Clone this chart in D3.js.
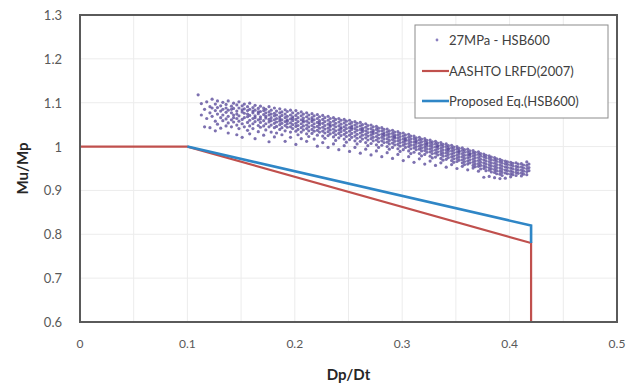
<!DOCTYPE html>
<html>
<head>
<meta charset="utf-8">
<script src="https://cdn.jsdelivr.net/npm/d3@7"></script>
<style>
  html, body { margin: 0; padding: 0; background: #fff; }
  text { font-family: Lato, "Open Sans", sans-serif; }
</style>
</head>
<body>
<script>
// data
const xTicks = [0, 0.1, 0.2, 0.3, 0.4, 0.5];
const yTicks = [0.6, 0.7, 0.8, 0.9, 1, 1.1, 1.2, 1.3];
const xGrid = [0.05, 0.1, 0.15, 0.2, 0.25, 0.3, 0.35, 0.4, 0.45];

const aashtoX = [0, 0.1, 0.42, 0.42];
const aashtoY = [1, 1, 0.78, 0.6];
const proposedX = [0.1, 0.42, 0.42];
const proposedY = [1, 0.82, 0.78];

const seriesNames = ["27MPa - HSB600", "AASHTO LRFD(2007)", "Proposed Eq.(HSB600)"];

// scatter cloud: each row = [x, y1, y2, ...]
const cloudRows = [
  [0.110, 1.118],
  [0.113, 1.072, 1.098],
  [0.116, 1.085, 1.045],
  [0.118, 1.102, 1.064],
  [0.121, 1.091, 1.077, 1.043],
  [0.123, 1.108, 1.069, 1.088],
  [0.126, 1.097, 1.058, 1.082, 1.036],
  [0.128, 1.104, 1.074, 1.089, 1.051],
  [0.131, 1.093, 1.066, 1.081, 1.042],
  [0.133, 1.101, 1.085, 1.059, 1.072],
  [0.136, 1.096, 1.078, 1.063, 1.047, 1.088],
  [0.138, 1.104, 1.083, 1.069, 1.054, 1.031],
  [0.141, 1.092, 1.077, 1.061, 1.085, 1.045],
  [0.143, 1.099, 1.087, 1.072, 1.056, 1.066],
  [0.146, 1.095, 1.081, 1.064, 1.049, 1.074, 1.027],
  [0.148, 1.102, 1.088, 1.07, 1.058, 1.041],
  [0.151, 1.093, 1.079, 1.062, 1.084, 1.052, 1.021],
  [0.153, 1.097, 1.076, 1.066, 1.045, 1.086],
  [0.156, 1.091, 1.082, 1.068, 1.055, 1.037, 1.074],
  [0.158, 1.099, 1.085, 1.071, 1.06, 1.047, 1.029],
  [0.161, 1.089, 1.077, 1.064, 1.081, 1.052, 1.041],
  [0.163, 1.094, 1.083, 1.07, 1.057, 1.066, 1.018],
  [0.166, 1.087, 1.075, 1.061, 1.048, 1.079, 1.034],
  [0.168, 1.092, 1.08, 1.068, 1.055, 1.044, 1.063],
  [0.171, 1.088, 1.073, 1.059, 1.082, 1.047, 1.026],
  [0.173, 1.085, 1.077, 1.065, 1.052, 1.069, 1.038],
  [0.176, 1.091, 1.079, 1.062, 1.056, 1.045, 1.072, 1.011],
  [0.178, 1.083, 1.074, 1.066, 1.049, 1.059, 1.033],
  [0.181, 1.088, 1.076, 1.061, 1.07, 1.043, 1.053, 1.022],
  [0.183, 1.081, 1.072, 1.064, 1.056, 1.046, 1.031],
  [0.186, 1.086, 1.077, 1.068, 1.058, 1.05, 1.039, 1.063],
  [0.188, 1.079, 1.071, 1.061, 1.053, 1.043, 1.027],
  [0.191, 1.084, 1.074, 1.066, 1.057, 1.048, 1.036, 1.012],
  [0.193, 1.08, 1.069, 1.061, 1.052, 1.044, 1.058],
  [0.196, 1.083, 1.072, 1.063, 1.054, 1.045, 1.033, 1.021],
  [0.198, 1.077, 1.068, 1.059, 1.05, 1.041, 1.064],
  [0.201, 1.082, 1.071, 1.062, 1.053, 1.046, 1.035, 1.005],
  [0.203, 1.076, 1.066, 1.057, 1.048, 1.039, 1.027],
  [0.206, 1.079, 1.07, 1.061, 1.052, 1.043, 1.033, 1.018],
  [0.208, 1.074, 1.065, 1.056, 1.047, 1.038, 1.059],
  [0.211, 1.077, 1.068, 1.058, 1.049, 1.041, 1.029, 1.012],
  [0.213, 1.072, 1.063, 1.054, 1.045, 1.036, 1.023],
  [0.216, 1.075, 1.066, 1.057, 1.048, 1.039, 1.03, 1.061],
  [0.218, 1.07, 1.061, 1.052, 1.044, 1.035, 1.017],
  [0.221, 1.073, 1.064, 1.055, 1.046, 1.037, 1.026, 1.001],
  [0.223, 1.068, 1.059, 1.05, 1.042, 1.033, 1.054],
  [0.226, 1.071, 1.062, 1.053, 1.044, 1.035, 1.024, 1.009],
  [0.228, 1.066, 1.057, 1.048, 1.04, 1.031, 1.019],
  [0.231, 1.069, 1.06, 1.051, 1.042, 1.034, 1.025, 0.998],
  [0.233, 1.064, 1.055, 1.046, 1.038, 1.029, 1.049],
  [0.236, 1.066, 1.058, 1.049, 1.04, 1.032, 1.022, 1.006],
  [0.238, 1.062, 1.053, 1.045, 1.036, 1.027, 1.014],
  [0.241, 1.064, 1.056, 1.047, 1.038, 1.03, 1.02, 0.993],
  [0.243, 1.06, 1.051, 1.043, 1.034, 1.025, 1.041],
  [0.246, 1.062, 1.054, 1.045, 1.037, 1.028, 1.017, 1.002],
  [0.248, 1.058, 1.049, 1.041, 1.032, 1.023, 1.01],
  [0.251, 1.06, 1.052, 1.043, 1.035, 1.026, 1.016, 0.989],
  [0.253, 1.055, 1.047, 1.039, 1.03, 1.021, 1.043],
  [0.256, 1.057, 1.049, 1.041, 1.033, 1.024, 1.013, 0.998],
  [0.258, 1.053, 1.045, 1.037, 1.028, 1.019, 1.006],
  [0.261, 1.055, 1.047, 1.039, 1.031, 1.022, 1.012, 0.985],
  [0.263, 1.05, 1.042, 1.034, 1.026, 1.017, 1.038],
  [0.266, 1.052, 1.044, 1.036, 1.028, 1.02, 1.009, 0.994],
  [0.268, 1.048, 1.04, 1.032, 1.024, 1.015, 1.002],
  [0.271, 1.049, 1.041, 1.033, 1.026, 1.018, 1.007, 0.981],
  [0.273, 1.045, 1.037, 1.029, 1.021, 1.013, 1.033],
  [0.276, 1.046, 1.039, 1.031, 1.023, 1.015, 1.004, 0.99],
  [0.278, 1.042, 1.035, 1.027, 1.019, 1.011, 0.998],
  [0.281, 1.043, 1.036, 1.028, 1.021, 1.013, 1.003, 0.977],
  [0.283, 1.039, 1.032, 1.024, 1.017, 1.009, 1.028],
  [0.286, 1.04, 1.033, 1.026, 1.018, 1.01, 1.0, 0.986],
  [0.288, 1.036, 1.029, 1.022, 1.014, 1.006, 0.994],
  [0.291, 1.037, 1.03, 1.023, 1.016, 1.008, 0.998, 0.973],
  [0.293, 1.033, 1.026, 1.019, 1.012, 1.004, 1.022],
  [0.296, 1.034, 1.027, 1.02, 1.013, 1.005, 0.995, 0.982],
  [0.298, 1.03, 1.023, 1.016, 1.009, 1.001, 0.989],
  [0.301, 1.031, 1.024, 1.017, 1.01, 1.003, 0.993, 0.968],
  [0.303, 1.027, 1.02, 1.013, 1.006, 0.998, 1.016],
  [0.306, 1.028, 1.021, 1.014, 1.007, 1.0, 0.99, 0.977],
  [0.308, 1.024, 1.017, 1.01, 1.003, 0.995, 0.984],
  [0.311, 1.024, 1.018, 1.011, 1.004, 0.997, 0.987, 0.964],
  [0.313, 1.02, 1.014, 1.007, 1.0, 0.993, 1.011],
  [0.316, 1.021, 1.015, 1.008, 1.001, 0.994, 0.984, 0.972],
  [0.318, 1.017, 1.011, 1.004, 0.997, 0.99, 0.979],
  [0.321, 1.018, 1.012, 1.005, 0.998, 0.991, 0.982, 0.96],
  [0.323, 1.014, 1.008, 1.001, 0.994, 0.987, 1.006],
  [0.326, 1.015, 1.009, 1.002, 0.995, 0.988, 0.978, 0.967],
  [0.328, 1.011, 1.005, 0.998, 0.991, 0.984, 0.974],
  [0.331, 1.012, 1.006, 0.999, 0.992, 0.985, 0.976, 0.957],
  [0.333, 1.008, 1.002, 0.995, 0.988, 0.981, 1.0],
  [0.336, 1.009, 1.003, 0.996, 0.989, 0.982, 0.973, 0.963],
  [0.338, 1.005, 0.999, 0.992, 0.985, 0.978, 0.969],
  [0.341, 1.006, 1.0, 0.993, 0.986, 0.979, 0.971, 0.953],
  [0.343, 1.002, 0.996, 0.989, 0.982, 0.975, 0.994],
  [0.346, 1.003, 0.997, 0.99, 0.983, 0.976, 0.968, 0.959],
  [0.348, 0.999, 0.993, 0.986, 0.979, 0.972, 0.964],
  [0.351, 1.0, 0.994, 0.987, 0.98, 0.973, 0.966, 0.95],
  [0.353, 0.996, 0.99, 0.983, 0.976, 0.969, 0.988],
  [0.356, 0.997, 0.991, 0.984, 0.977, 0.97, 0.963, 0.955],
  [0.358, 0.993, 0.987, 0.98, 0.973, 0.966, 0.959],
  [0.361, 0.994, 0.988, 0.981, 0.974, 0.967, 0.96, 0.947],
  [0.363, 0.99, 0.984, 0.977, 0.97, 0.963, 0.982],
  [0.366, 0.991, 0.985, 0.978, 0.971, 0.964, 0.957, 0.951],
  [0.368, 0.987, 0.981, 0.974, 0.967, 0.96, 0.954],
  [0.371, 0.988, 0.982, 0.975, 0.968, 0.961, 0.955, 0.944],
  [0.373, 0.984, 0.978, 0.971, 0.964, 0.957, 0.949],
  [0.376, 0.983, 0.977, 0.97, 0.963, 0.956, 0.95, 0.93],
  [0.378, 0.98, 0.974, 0.967, 0.96, 0.953, 0.945],
  [0.381, 0.979, 0.973, 0.966, 0.959, 0.952, 0.946, 0.932],
  [0.383, 0.976, 0.97, 0.963, 0.956, 0.949, 0.942],
  [0.386, 0.975, 0.969, 0.962, 0.955, 0.948, 0.941, 0.929],
  [0.388, 0.972, 0.966, 0.959, 0.952, 0.945, 0.938],
  [0.391, 0.971, 0.965, 0.958, 0.951, 0.944, 0.937, 0.927],
  [0.393, 0.968, 0.962, 0.955, 0.948, 0.941, 0.934],
  [0.396, 0.967, 0.961, 0.954, 0.947, 0.94, 0.928],
  [0.398, 0.965, 0.959, 0.952, 0.945, 0.938],
  [0.401, 0.964, 0.958, 0.951, 0.944, 0.937, 0.931],
  [0.403, 0.962, 0.956, 0.949, 0.942, 0.936],
  [0.406, 0.963, 0.955, 0.948, 0.941, 0.934],
  [0.408, 0.96, 0.953, 0.946, 0.939],
  [0.411, 0.961, 0.954, 0.947, 0.94, 0.933],
  [0.413, 0.958, 0.951, 0.944, 0.937],
  [0.416, 0.965, 0.957, 0.95, 0.943, 0.936],
  [0.418, 0.96, 0.952, 0.945]
];

const width = 641, height = 390;
const margin = {top: 15, right: 24, bottom: 68, left: 80};
const plotW = width - margin.left - margin.right;
const plotH = height - margin.top - margin.bottom;

const svg = d3.select("body").append("svg")
  .attr("width", width).attr("height", height);

const x = d3.scaleLinear().domain([0, 0.5]).range([margin.left, margin.left + plotW]);
const y = d3.scaleLinear().domain([0.6, 1.3]).range([margin.top + plotH, margin.top]);

// gridlines
svg.append("g").selectAll("line").data(xGrid).join("line")
  .attr("x1", d => x(d)).attr("x2", d => x(d))
  .attr("y1", y(0.6)).attr("y2", y(1.3))
  .attr("stroke", "#ececec").attr("stroke-width", 1);
svg.append("g").selectAll("line").data(yTicks.slice(1, -1)).join("line")
  .attr("x1", x(0)).attr("x2", x(0.5))
  .attr("y1", d => y(d)).attr("y2", d => y(d))
  .attr("stroke", "#ececec").attr("stroke-width", 1);

// scatter
const cloud = cloudRows.flatMap(r => r.slice(1).map(v => [r[0], v]));
svg.append("g").selectAll("circle").data(cloud).join("circle")
  .attr("cx", d => x(d[0])).attr("cy", d => y(d[1]))
  .attr("r", 1.6)
  .attr("fill", "#5c4d9c").attr("fill-opacity", 0.8);

// lines
const line = d3.line().x(d => x(d[0])).y(d => y(d[1]));
svg.append("path")
  .datum(aashtoX.map((v, i) => [v, aashtoY[i]]))
  .attr("d", line).attr("fill", "none")
  .attr("stroke", "#c0504d").attr("stroke-width", 2.2);
svg.append("path")
  .datum(proposedX.map((v, i) => [v, proposedY[i]]))
  .attr("d", line).attr("fill", "none")
  .attr("stroke", "#2f86c6").attr("stroke-width", 2.6);

// frame
svg.append("rect")
  .attr("x", x(0)).attr("y", y(1.3))
  .attr("width", plotW).attr("height", plotH)
  .attr("fill", "none").attr("stroke", "#5a5a5a").attr("stroke-width", 2);

// tick labels
svg.append("g").selectAll("text").data(xTicks).join("text")
  .attr("x", d => x(d)).attr("y", y(0.6) + 26)
  .attr("text-anchor", "middle")
  .attr("font-size", 12).attr("fill", "#595959")
  .text(d => d);
svg.append("g").selectAll("text").data(yTicks).join("text")
  .attr("x", x(0) - 18).attr("y", d => y(d) + 5)
  .attr("text-anchor", "end")
  .attr("font-size", 13).attr("fill", "#595959")
  .text(d => d);

// axis titles
svg.append("text")
  .attr("x", x(0.25)).attr("y", 380)
  .attr("text-anchor", "middle")
  .attr("font-size", 15).attr("font-weight", "bold").attr("fill", "#262626")
  .text("Dp/Dt");
svg.append("text")
  .attr("transform", `translate(28, ${y(0.95)}) rotate(-90)`)
  .attr("text-anchor", "middle")
  .attr("font-size", 15).attr("font-weight", "bold").attr("fill", "#262626")
  .text("Mu/Mp");

// legend
const lg = svg.append("g").attr("transform", "translate(415, 25)");
lg.append("rect").attr("width", 193).attr("height", 93)
  .attr("fill", "#fff").attr("stroke", "#8c8c8c").attr("stroke-width", 1);
const rows = [15, 46, 76];
lg.append("circle").attr("cx", 22).attr("cy", rows[0]).attr("r", 1.4).attr("fill", "#8a7fc0");
lg.append("line").attr("x1", 7).attr("x2", 34).attr("y1", rows[1]).attr("y2", rows[1])
  .attr("stroke", "#c0504d").attr("stroke-width", 2.2);
lg.append("line").attr("x1", 7).attr("x2", 34).attr("y1", rows[2]).attr("y2", rows[2])
  .attr("stroke", "#2f86c6").attr("stroke-width", 2.6);
lg.selectAll("text.lbl").data(seriesNames).join("text")
  .attr("class", "lbl")
  .attr("x", 34).attr("y", (d, i) => rows[i] + 5)
  .attr("font-size", 13).attr("fill", "#404040")
  .text(d => d);
</script>
</body>
</html>
